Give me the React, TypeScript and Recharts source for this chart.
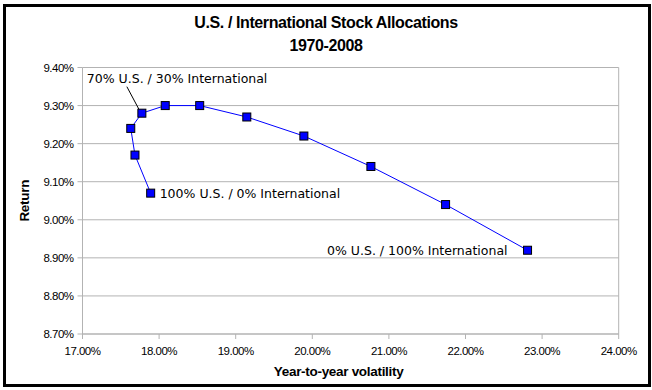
import { CartesianGrid, Label, ReferenceLine, Scatter, ScatterChart, XAxis, YAxis } from "recharts";

const usShare = [100, 90, 80, 70, 60, 50, 40, 30, 20, 10, 0];
const volatility = [17.89, 17.685, 17.63, 17.775, 18.08, 18.53, 19.145, 19.89, 20.765, 21.74, 22.81];
const returns = [9.07, 9.17, 9.24, 9.28, 9.3, 9.3, 9.27, 9.22, 9.14, 9.04, 8.92];

const xTicks = [17, 18, 19, 20, 21, 22, 23, 24];
const yTicks = [8.7, 8.8, 8.9, 9.0, 9.1, 9.2, 9.3, 9.4];

// which points carry a text callout
const calloutShare = [100, 70, 0];
const calloutText = ["100% U.S. / 0% International", "70% U.S. / 30% International", "0% U.S. / 100% International"];

const points = usShare.map((us, i) => ({ us, vol: volatility[i], ret: returns[i] }));
const callouts = calloutShare.map((us, i) => ({
  ...points[usShare.indexOf(us)],
  text: calloutText[i],
}));

const GRID = "#b3b3b3";
const BLUE = "#0000ff";
const AXIS_FONT = "'Liberation Sans', Arial, sans-serif";
const LABEL_FONT = "'DejaVu Sans', sans-serif";

const pct = (v: number) => `${v.toFixed(2)}%`;

function Marker(props: any) {
  const { cx, cy } = props;
  if (cx == null || cy == null) return null;
  return <rect x={cx - 4} y={cy - 4} width={8} height={8} fill={BLUE} stroke="#000" strokeWidth={1} />;
}

// placement of each callout relative to its point
const calloutPlacement: Record<number, { dx: number; dy: number; anchor: "start" | "end"; leader?: number[] }> = {
  100: { dx: 9, dy: 4.5, anchor: "start" },
  70: { dx: -55, dy: -30, anchor: "start", leader: [-15, -26.5, -3, -4] },
  0: { dx: -20, dy: 4.5, anchor: "end" },
};

function Callout(props: any) {
  const { cx, cy, payload } = props;
  if (cx == null || cy == null || !payload) return null;
  const p = calloutPlacement[payload.us];
  return (
    <g>
      {p.leader && (
        <line
          x1={cx + p.leader[0]}
          y1={cy + p.leader[1]}
          x2={cx + p.leader[2]}
          y2={cy + p.leader[3]}
          stroke="#000"
          strokeWidth={1}
        />
      )}
      <text x={cx + p.dx} y={cy + p.dy} textAnchor={p.anchor} fontFamily={LABEL_FONT} fontSize={12.5} fill="#000">
        {payload.text}
      </text>
    </g>
  );
}

const titleStyle = {
  position: "absolute" as const,
  left: 0,
  width: 652,
  textAlign: "center" as const,
  fontFamily: AXIS_FONT,
  fontWeight: "bold",
  fontSize: 16,
  lineHeight: "18px",
  letterSpacing: -0.4,
};

export default function App() {
  return (
    <div style={{ position: "absolute", left: 0, top: 0, width: 652, height: 390, background: "#fff" }}>
      <div
        style={{
          position: "absolute",
          left: 3,
          top: 4,
          width: 648,
          height: 383,
          border: "3px solid #000",
          boxSizing: "border-box",
        }}
      />
      <div style={{ ...titleStyle, top: 14 }}>U.S. / International Stock Allocations</div>
      <div style={{ ...titleStyle, top: 37 }}>1970-2008</div>
      <div style={{ position: "absolute", left: 0, top: 0 }}>
        <ScatterChart width={652} height={390} margin={{ top: 67.5, right: 33.3, bottom: 0, left: 0 }}>
          <CartesianGrid stroke={GRID} vertical={false} horizontalValues={yTicks} />
          <XAxis
            type="number"
            dataKey="vol"
            domain={[17, 24]}
            ticks={xTicks}
            tickFormatter={pct}
            height={56}
            stroke={GRID}
            tickSize={5}
            tickMargin={8}
            tick={{ fill: "#000", fontSize: 11.5, fontFamily: AXIS_FONT, letterSpacing: -0.5 }}
            allowDataOverflow
          >
            <Label
              value="Year-to-year volatility"
              position="insideBottom"
              offset={14}
              dx={-12}
              style={{ fontFamily: AXIS_FONT, fontWeight: "bold", fontSize: 13.5, fill: "#000", letterSpacing: -0.3 }}
            />
          </XAxis>
          <YAxis
            type="number"
            dataKey="ret"
            domain={[8.7, 9.4]}
            ticks={yTicks}
            tickFormatter={pct}
            width={82.5}
            stroke={GRID}
            tickSize={5}
            tickMargin={4}
            tick={{ fill: "#000", fontSize: 11.5, fontFamily: AXIS_FONT, letterSpacing: -0.5 }}
            allowDataOverflow
          >
            <Label
              value="Return"
              angle={-90}
              position="insideLeft"
              offset={24}
              style={{
                fontFamily: AXIS_FONT,
                fontWeight: "bold",
                fontSize: 13.5,
                fill: "#000",
                textAnchor: "middle",
                letterSpacing: -0.3,
              }}
            />
          </YAxis>
          <ReferenceLine x={24} stroke={GRID} />
          <Scatter
            data={points}
            line={{ stroke: BLUE, strokeWidth: 1 }}
            lineType="joint"
            shape={<Marker />}
            isAnimationActive={false}
          />
          <Scatter data={callouts} shape={<Callout />} isAnimationActive={false} />
        </ScatterChart>
      </div>
    </div>
  );
}
